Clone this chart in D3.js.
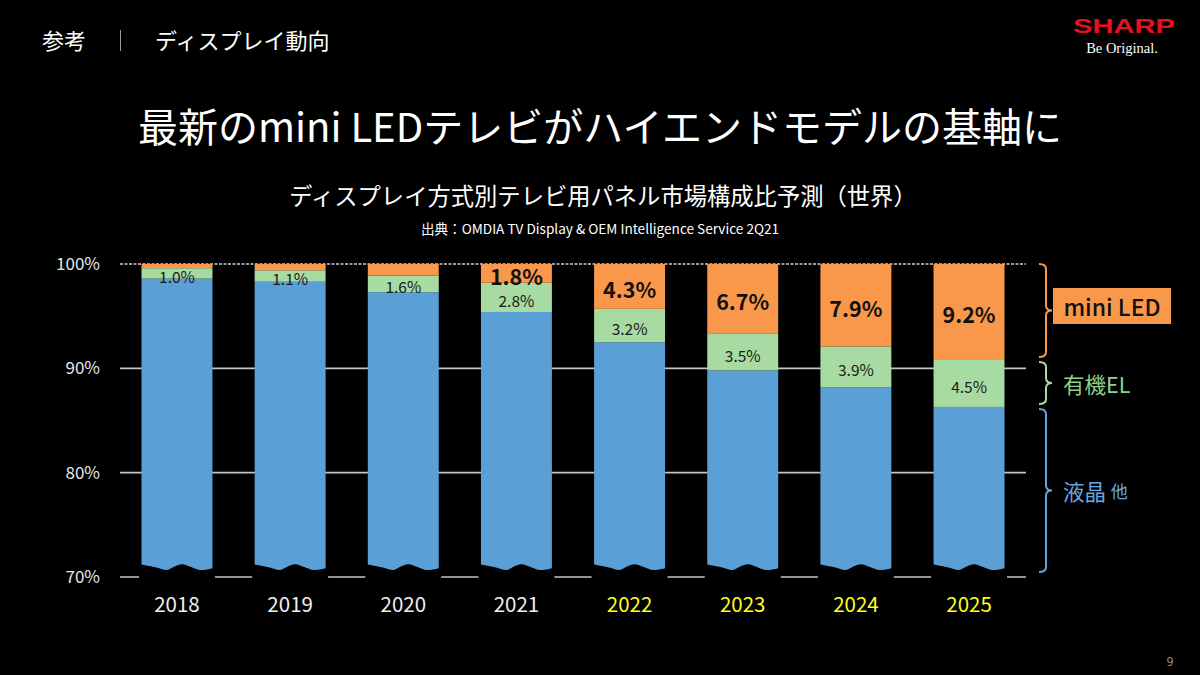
<!DOCTYPE html>
<html>
<head>
<meta charset="utf-8">
<script src="https://cdn.jsdelivr.net/npm/d3@7"></script>
<style>
  html, body { margin: 0; padding: 0; background: #000; }
  svg { display: block; }
  text { font-family: "Noto Sans CJK JP", "Noto Sans", sans-serif; }
</style>
</head>
<body>
<svg id="chart" width="1200" height="675"></svg>
<script>
// ---- data ----
const years = ["2018", "2019", "2020", "2021", "2022", "2023", "2024", "2025"];
const lcdShare = [98.6, 98.3, 97.3, 95.4, 92.5, 89.8, 88.2, 86.3];
const oledShare = [1.0, 1.1, 1.6, 2.8, 3.2, 3.5, 3.9, 4.5];
const miniLedShare = [0.4, 0.6, 1.1, 1.8, 4.3, 6.7, 7.9, 9.2];
const miniLedLabelShown = [false, false, false, true, true, true, true, true];
const forecastYears = ["2022", "2023", "2024", "2025"];
const yTicks = [70, 80, 90, 100];
const seriesKeys = ["lcd", "oled", "mini"];
const seriesNames = ["液晶", "有機EL", "mini LED"];

const colors = { lcd: "#5b9fd7", oled: "#a8dba2", mini: "#f9984a" };

const rows = years.map((y, i) => ({ year: y, lcd: lcdShare[i], oled: oledShare[i], mini: miniLedShare[i] }));

const svg = d3.select("#chart");
svg.append("rect").attr("width", 1200).attr("height", 675).attr("fill", "#000");

// ---- header ----
svg.append("text").attr("x", 42).attr("y", 49).attr("font-size", 22).attr("fill", "#fff").text("参考");
svg.append("line").attr("x1", 120.5).attr("x2", 120.5).attr("y1", 30).attr("y2", 51)
  .attr("stroke", "#9a9a9a").attr("stroke-width", 1);
svg.append("text").attr("x", 155).attr("y", 49).attr("font-size", 22).attr("fill", "#fff").text("ディスプレイ動向");

// SHARP logo
svg.append("text").attr("x", 1073).attr("y", 33)
  .attr("font-weight", "bold").attr("font-size", 19.5).attr("fill", "#e8101f")
  .attr("textLength", 102).attr("lengthAdjust", "spacingAndGlyphs").style("font-family", "'Liberation Sans', Arial, sans-serif")
  .text("SHARP");
svg.append("text").attr("x", 1122).attr("y", 53).attr("text-anchor", "middle")
  .style("font-family", "'Liberation Serif', 'DejaVu Serif', serif").attr("font-size", 14.5).attr("fill", "#fff")
  .text("Be Original.");

// ---- titles ----
svg.append("text").attr("x", 600).attr("y", 142).attr("text-anchor", "middle")
  .attr("font-size", 40).attr("fill", "#fff").text("最新のmini LEDテレビがハイエンドモデルの基軸に");
svg.append("text").attr("x", 603).attr("y", 205).attr("text-anchor", "middle")
  .attr("font-size", 23.3).attr("fill", "#fff").text("ディスプレイ方式別テレビ用パネル市場構成比予測（世界）");
svg.append("text").attr("x", 600).attr("y", 234).attr("text-anchor", "middle")
  .attr("font-size", 13.6).attr("fill", "#fff").text("出典：OMDIA TV Display & OEM Intelligence Service 2Q21");

// ---- scales ----
const x = d3.scaleBand().domain(years).range([120, 1026]).paddingInner(0.373).paddingOuter(0.19);
const y = d3.scaleLinear().domain([70, 100]).range([577, 264]);

// ---- gridlines ----
const grid = svg.append("g");
yTicks.forEach(t => {
  grid.append("line").attr("x1", 120).attr("x2", 1026).attr("y1", y(t)).attr("y2", y(t))
    .attr("stroke", t === 100 ? "#cfcfcf" : "#c4c4c4").attr("stroke-width", 1.6)
    .attr("stroke-dasharray", t === 100 ? "3,1.5" : null);
});
// y axis labels
const yAxis = d3.axisLeft(y).tickValues(yTicks).tickFormat(d => d + "%").tickSize(0).tickPadding(0);
const yg = svg.append("g").attr("transform", "translate(100,0)").call(yAxis);
yg.select(".domain").remove();
yg.selectAll("text").attr("font-size", 17).attr("fill", "#e6e6e6")
  .style("font-family", "'Noto Sans CJK JP', sans-serif");

// ---- stacked bars ----
const stack = d3.stack().keys(seriesKeys);
const stacked = stack(rows);

const barsG = svg.append("g");
stacked.forEach((s, si) => {
  barsG.selectAll(null).data(s).enter().append("rect")
    .attr("x", d => x(d.data.year))
    .attr("width", x.bandwidth())
    .attr("y", d => {
      const adj = 100 - d.data.lcd - d.data.oled - d.data.mini;
      return y(Math.min(100, d[1] + adj));
    })
    .attr("height", d => {
      const adj = 100 - d.data.lcd - d.data.oled - d.data.mini;
      const top = d[1] + adj;
      const bot = si === 0 ? 70 : d[0] + adj;
      return Math.max(0, y(bot) - y(top));
    })
    .attr("fill", colors[s.key]);
});

// wavy cut at the bottom of each bar
const waveT = [0, 0.18, 0.36, 0.465, 0.57, 0.70, 0.83, 0.92, 1];
const waveDy = [-12.5, -10, -7, -10.5, -12.8, -10, -7, -7.6, -8.8];
const waveLine = d3.line().curve(d3.curveMonotoneX);
years.forEach(yr => {
  const x0 = x(yr), w = x.bandwidth(), base = y(70);
  const pts = waveT.map((t, i) => [x0 + t * w, base + waveDy[i]]);
  const top = waveLine(pts);
  const path = top + `L${x0 + w + 2.5},${base + waveDy[waveDy.length - 1]}L${x0 + w + 2.5},${base + 4}L${x0 - 2.5},${base + 4}L${x0 - 2.5},${base + waveDy[0]}Z`;
  barsG.append("path").attr("d", path).attr("fill", "#000");
});

// ---- value labels ----
const labelsG = svg.append("g");
rows.forEach((r, i) => {
  const adj = 100 - r.lcd - r.oled - r.mini;
  const oledBot = r.lcd + adj, oledTop = oledBot + r.oled;
  const cx = x(r.year) + x.bandwidth() / 2;
  labelsG.append("text").attr("x", cx).attr("y", (y(oledBot) + y(oledTop)) / 2 + 2.5)
    .attr("text-anchor", "middle").attr("dominant-baseline", "central")
    .attr("font-size", 15.5).attr("fill", "#1a1a1a").text(r.oled.toFixed(1) + "%");
  if (miniLedLabelShown[i]) {
    labelsG.append("text").attr("x", cx).attr("y", (y(oledTop) + y(100)) / 2 + 2)
      .attr("text-anchor", "middle").attr("dominant-baseline", "central")
      .attr("font-size", 21.5).attr("font-weight", "bold").attr("fill", "#111").text(r.mini.toFixed(1) + "%");
  }
});

// ---- x axis labels ----
const xAxis = d3.axisBottom(x).tickSize(0).tickPadding(0);
const xg = svg.append("g").attr("transform", "translate(0,597)").call(xAxis);
xg.select(".domain").remove();
xg.selectAll("text").attr("font-size", 20.5).attr("dy", "0.71em")
  .style("font-family", "'Noto Sans CJK JP', sans-serif")
  .attr("fill", d => forecastYears.includes(d) ? "#ffff1a" : "#f0f0f0");

// ---- legend braces (aligned with the last year's segments) ----
const last = rows[rows.length - 1];
const segs = [
  { key: "mini", top: 100, bot: 100 - last.mini, color: colors.mini },
  { key: "oled", top: 100 - last.mini, bot: 100 - last.mini - last.oled, color: "#a8dba2" },
  { key: "lcd", top: 100 - last.mini - last.oled, bot: 70, color: "#5ea6e2" }
];
const bx0 = 1039, bxs = 1046, bxp = 1052, r = 5;
segs.forEach((s, i) => {
  const yt = y(s.top) + (i === 0 ? 0 : 2);
  const yb = (i === 2 ? y(s.bot) - 5 : y(s.bot) - 3);
  const ym = (yt + yb) / 2;
  const p = `M${bx0},${yt} Q${bxs},${yt} ${bxs},${yt + r} L${bxs},${ym - r} Q${bxs},${ym} ${bxp},${ym} Q${bxs},${ym} ${bxs},${ym + r} L${bxs},${yb - r} Q${bxs},${yb} ${bx0},${yb}`;
  svg.append("path").attr("d", p).attr("fill", "none").attr("stroke", s.color).attr("stroke-width", 2);
  s.ym = ym;
});

// mini LED box
svg.append("rect").attr("x", 1053).attr("y", 288).attr("width", 118).attr("height", 36).attr("fill", colors.mini);
svg.append("text").attr("x", 1112).attr("y", 306).attr("text-anchor", "middle").attr("dominant-baseline", "central")
  .attr("font-size", 23).attr("font-weight", "500").attr("fill", "#111").text(seriesNames[2]);
svg.append("text").attr("x", 1063).attr("y", segs[1].ym + 1).attr("dominant-baseline", "central")
  .attr("font-size", 21.5).attr("fill", "#8fd08a").text(seriesNames[1]);
const lcdLabel = svg.append("text").attr("x", 1063).attr("y", segs[2].ym).attr("dominant-baseline", "central")
  .attr("font-size", 21.5).attr("fill", "#66a8e2");
lcdLabel.append("tspan").text(seriesNames[0] + " ");
lcdLabel.append("tspan").attr("font-size", 17).text("他");

// page number
svg.append("text").attr("x", 1170).attr("y", 666).attr("text-anchor", "middle")
  .attr("font-size", 12).attr("fill", "#9a9a9a").text("9");
</script>
</body>
</html>
